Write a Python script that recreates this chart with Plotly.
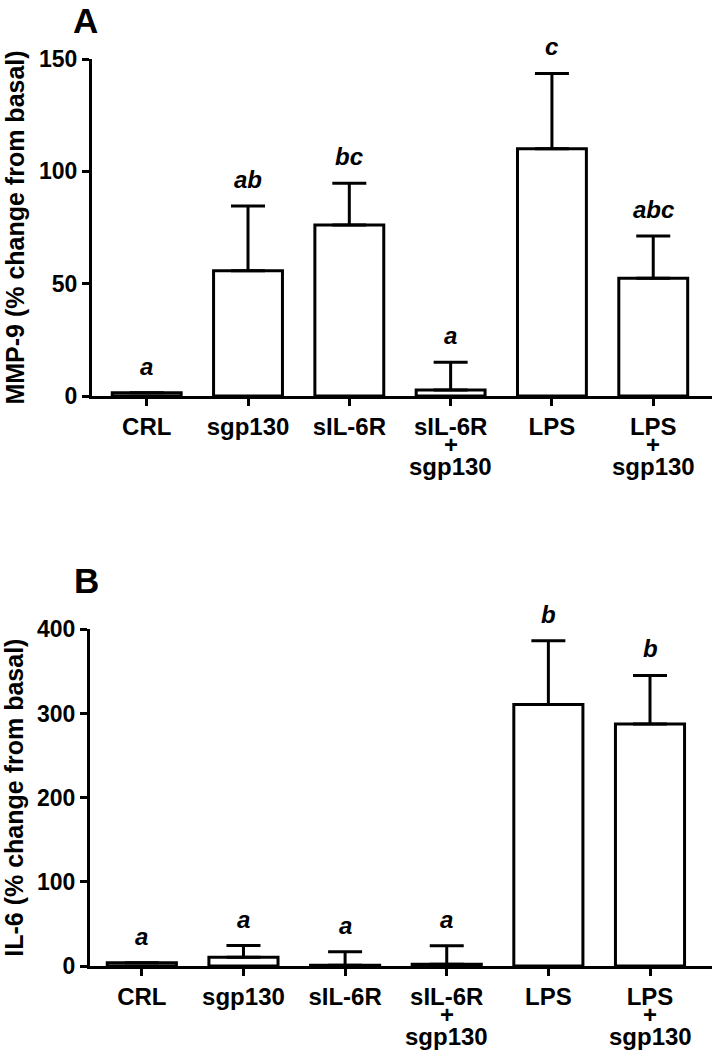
import plotly.graph_objects as go

# ---------------- data ----------------
categories = ["CRL", "sgp130", "sIL-6R", "sIL-6R+sgp130", "LPS", "LPS+sgp130"]
tick_first_line = ["CRL", "sgp130", "sIL-6R", "sIL-6R", "LPS", "LPS"]
tick_extra_lines = [None, None, None, ["+", "sgp130"], None, ["+", "sgp130"]]

mmp9_mean = [1.5, 55.8, 76.1, 2.7, 110.0, 52.4]
mmp9_sem = [0.0, 28.8, 18.6, 12.3, 33.6, 18.8]
mmp9_letters = ["a", "ab", "bc", "a", "c", "abc"]

il6_mean = [4.0, 10.3, 1.0, 2.0, 310.8, 287.4]
il6_sem = [0.0, 14.0, 16.0, 22.0, 75.5, 57.8]
il6_letters = ["a", "a", "a", "a", "b", "b"]

mmp9_ticks = [0, 50, 100, 150]
il6_ticks = [0, 100, 200, 300, 400]

# ---------------- styling ----------------
FONT = "Liberation Sans, Arial, sans-serif"
W, H = 713, 1050
x_idx = list(range(len(categories)))

fig = go.Figure()


def add_panel(mean, sem, xref, yref):
    fig.add_trace(go.Bar(
        x=x_idx, y=mean, xaxis=xref, yaxis=yref,
        width=0.68,
        marker=dict(color="white", line=dict(color="black", width=3)),
        error_y=dict(type="data", symmetric=False, array=sem,
                     arrayminus=[0] * len(sem), color="black",
                     thickness=3, width=17),
        showlegend=False, hoverinfo="skip",
    ))


add_panel(mmp9_mean, mmp9_sem, "x", "y")
add_panel(il6_mean, il6_sem, "x2", "y2")

ann = []


def add_letters(mean, sem, letters, xref, yref):
    for i, (m, s, t) in enumerate(zip(mean, sem, letters)):
        ann.append(dict(x=i, y=m + s, xref=xref, yref=yref, text=f"<b><i>{t}</i></b>",
                        showarrow=False, yanchor="bottom", yshift=11,
                        font=dict(family=FONT, size=24, color="black")))


add_letters(mmp9_mean, mmp9_sem, mmp9_letters, "x", "y")
add_letters(il6_mean, il6_sem, il6_letters, "x2", "y2")


def add_extra_labels(xref, ydom):
    for i, lines in enumerate(tick_extra_lines):
        if not lines:
            continue
        for k, line in enumerate(lines):
            ann.append(dict(x=i, y=0, xref=xref, yref=ydom, text=f"<b>{line}</b>",
                            showarrow=False, yanchor="middle", yshift=-(48 + 22 * k),
                            font=dict(family=FONT, size=24, color="black")))


add_extra_labels("x", "y domain")
add_extra_labels("x2", "y2 domain")

# panel letters
ann.append(dict(x=85 / W, y=1 - 20 / H, xref="paper", yref="paper", text="<b>A</b>",
                showarrow=False, xanchor="center", yanchor="middle",
                font=dict(family=FONT, size=35, color="black")))
ann.append(dict(x=86 / W, y=1 - 580 / H, xref="paper", yref="paper", text="<b>B</b>",
                showarrow=False, xanchor="center", yanchor="middle",
                font=dict(family=FONT, size=35, color="black")))

xaxis_common = dict(
    tickmode="array", tickvals=x_idx,
    ticktext=[f"<b>{t}</b>" for t in tick_first_line],
    showline=True, linecolor="black", linewidth=3,
    ticks="outside", ticklen=7, tickwidth=3, tickcolor="black",
    tickfont=dict(family=FONT, size=24, color="black"),
    showgrid=False, zeroline=False, fixedrange=True, automargin=False,
)
yaxis_common = dict(
    tickmode="array",
    showline=True, linecolor="black", linewidth=3,
    ticks="outside", ticklen=7, tickwidth=3, tickcolor="black",
    tickfont=dict(family=FONT, size=23, color="black"),
    showgrid=False, zeroline=False, fixedrange=True, automargin=False,
)

fig.update_layout(
    width=W, height=H,
    margin=dict(l=0, r=0, t=0, b=0, autoexpand=False),
    paper_bgcolor="white", plot_bgcolor="white",
    bargap=0,
    xaxis=dict(xaxis_common, domain=[92 / W, 712 / W], range=[-0.54, 5.58], anchor="y"),
    yaxis=dict(yaxis_common, domain=[1 - 396 / H, 1 - 59 / H], range=[0, 150],
               tickvals=mmp9_ticks, ticktext=[f"<b>{v}</b>" for v in mmp9_ticks],
               anchor="x",
               title=dict(text="<b>MMP-9 (% change from basal)</b>", standoff=8,
                          font=dict(family=FONT, size=25, color="black"))),
    xaxis2=dict(xaxis_common, domain=[90 / W, 712 / W], range=[-0.51, 5.61], anchor="y2"),
    yaxis2=dict(yaxis_common, domain=[1 - 966 / H, 1 - 629.3 / H], range=[0, 400],
                tickvals=il6_ticks, ticktext=[f"<b>{v}</b>" for v in il6_ticks],
                anchor="x2",
                title=dict(text="<b>IL-6 (% change from basal)</b>", standoff=8,
                           font=dict(family=FONT, size=25, color="black"))),
    annotations=ann,
)

fig.write_html("out.html",
               config={"displayModeBar": False, "staticPlot": True},
               post_script="document.body.style.margin='0px';document.body.style.overflow='hidden';")
